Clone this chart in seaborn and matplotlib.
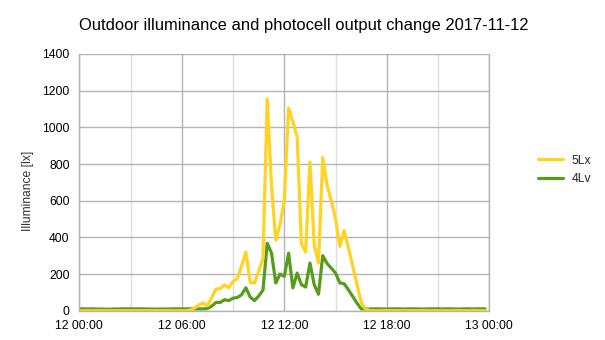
import numpy as np
import pandas as pd
import matplotlib
matplotlib.use("Agg")
import matplotlib.pyplot as plt
import seaborn as sns
from matplotlib.lines import Line2D

# ---- data (15-minute samples, 2017-11-12 00:00 .. 23:45) ----
hours = [i * 0.25 for i in range(96)]

lx5 = ([0] * 26 +
       [3, 15, 32, 42, 27, 72, 118, 120, 140, 125, 160, 175, 245, 320,
        155, 150, 215, 285, 1155, 680, 385, 470, 605, 1105, 1030, 950,
        365, 320, 810, 360, 260, 835, 686, 600, 500, 350, 437, 345,
        245, 145, 45, 10] +
       [0] * 28)

lv4 = ([10, 10, 9, 10, 9, 9, 8, 8, 9, 9, 10, 10, 10, 10, 10, 10, 9, 9, 8, 9,
        9, 9, 10, 10, 10, 10] +
       [10, 10, 10, 10, 12, 25, 45, 45, 60, 55, 68, 72, 87, 125, 75, 55,
        80, 112, 368, 314, 151, 200, 187, 314, 124, 205, 142, 129, 260,
        142, 90, 300, 258, 232, 205, 151, 147, 114, 78, 42, 10] +
       [10, 9, 10, 10, 9, 9, 10, 10, 10, 9, 10, 10, 10, 9, 9, 10, 10, 10,
        9, 10, 10, 9, 9, 10, 10, 9, 10, 10, 10])

series_names = ["5Lx", "4Lv"]
series_colors = {"5Lx": "#ffd320", "4Lv": "#579d1c"}
x_tick_hours = [0, 6, 12, 18, 24]
x_tick_labels = ["12 00:00", "12 06:00", "12 12:00", "12 18:00", "13 00:00"]
y_ticks = [0, 200, 400, 600, 800, 1000, 1200, 1400]

df = pd.DataFrame({
    "hour": hours * 2,
    "value": lx5 + lv4,
    "series": ["5Lx"] * len(hours) + ["4Lv"] * len(hours),
})

sns.set_theme(style="white")
plt.rcParams["font.family"] = ["Liberation Sans", "DejaVu Sans"]

fig = plt.figure(figsize=(6.05, 3.4), dpi=100)
ax = fig.add_axes([0.1311, 0.0862, 0.6777, 0.7550])

grid_c = "#b3b3b3"
minor_c = "#dddddd"

# draw green first so yellow is on top
sns.lineplot(data=df[df.series == "4Lv"], x="hour", y="value",
             color=series_colors["4Lv"], linewidth=2.3, ax=ax, legend=False)
sns.lineplot(data=df[df.series == "5Lx"], x="hour", y="value",
             color=series_colors["5Lx"], linewidth=2.3, ax=ax, legend=False)

ax.set_xlim(0, 24)
ax.set_ylim(0, 1400)
ax.set_xticks(x_tick_hours)
ax.set_xticklabels(x_tick_labels)
ax.set_xticks([3, 9, 15, 21], minor=True)
ax.set_yticks(y_ticks)
ax.set_yticklabels([str(v) for v in y_ticks])

ax.grid(True, which="major", color=grid_c, linewidth=1.0)
ax.grid(True, which="minor", axis="x", color=minor_c, linewidth=1.0)
ax.axvline(24, color=grid_c, linewidth=1.0, clip_on=False, zorder=0.5)
ax.set_axisbelow(True)

for s in ["top", "right"]:
    ax.spines[s].set_visible(False)
for s in ["left", "bottom"]:
    ax.spines[s].set_color(grid_c)
    ax.spines[s].set_linewidth(1.0)

ax.tick_params(axis="both", which="major", labelsize=8.7, colors="black",
               length=4.5, width=1.0, color=grid_c, pad=2.5)
ax.tick_params(axis="x", which="minor", length=0)
ax.set_xlabel("")
ax.set_ylabel("")

fig.text(0.502, 0.926, "Outdoor illuminance and photocell output change 2017-11-12",
         ha="center", va="center", fontsize=11.9, color="black")
fig.text(0.046, 0.44, "Illuminance [lx]", rotation=90, ha="center", va="center",
         fontsize=8.7, color="#333333")

handles = [Line2D([0], [0], color=series_colors[n], linewidth=2.3) for n in series_names]
fig.legend(handles, series_names, loc="center left",
           bbox_to_anchor=(538 / 605, 0.5), frameon=False, fontsize=8.7,
           handlelength=2.1, handletextpad=0.7, borderpad=0, borderaxespad=0,
           labelspacing=0.55)

fig.savefig("out.png", dpi=100)
